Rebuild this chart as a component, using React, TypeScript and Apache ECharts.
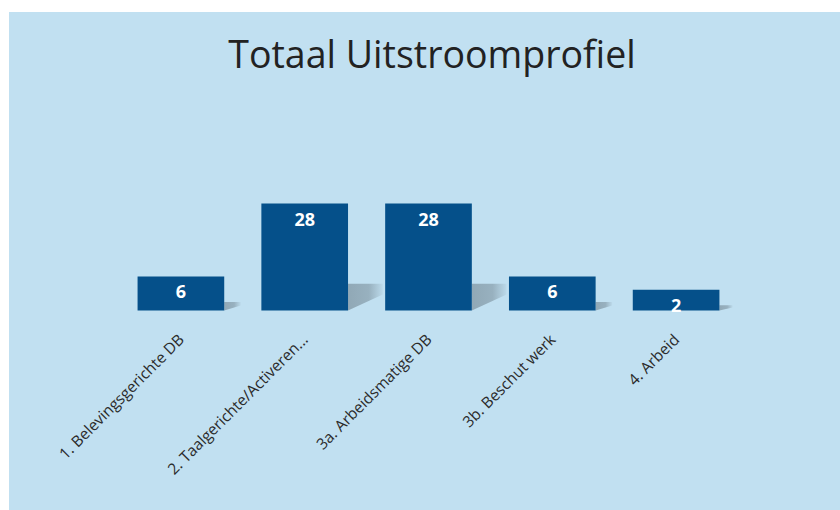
import React, { useEffect, useRef } from "react";
import * as echarts from "echarts";

const chartTitle = "Totaal Uitstroomprofiel";
const categories = [
  "1. Belevingsgerichte DB",
  "2. Taalgerichte/Activeren...",
  "3a. Arbeidsmatige DB",
  "3b. Beschut werk",
  "4. Arbeid",
];
const values = [6, 28, 28, 6, 2];

const Y_MIN = -4.25;
const Y_MAX = 40;
const BAR_COLOR = "#05508a";

export default function App() {
  const ref = useRef<HTMLDivElement>(null);

  useEffect(() => {
    if (!ref.current) return;
    const chart = echarts.init(ref.current, null, { renderer: "svg" });
    chart.setOption({
      animation: false,
      backgroundColor: "#c1e0f1",
      title: {
        text: chartTitle,
        left: 418,
        top: 17,
        textAlign: "center",
        textStyle: {
          fontFamily: "Open Sans",
          fontSize: 37.5,
          fontWeight: "normal",
          color: "#222222",
        },
      },
      grid: { left: 110, right: 102, top: 151.7, bottom: 199.5 },
      xAxis: {
        type: "category",
        data: categories,
        axisLine: { show: false, onZero: false },
        axisTick: { show: false },
        splitLine: { show: false },
        axisLabel: {
          interval: 0,
          rotate: 45,
          margin: 26,
          fontFamily: "Open Sans",
          fontSize: 15.5,
          color: "#2b2b2b",
        },
      },
      yAxis: { type: "value", min: Y_MIN, max: Y_MAX, show: false },
      series: [
        {
          type: "custom",
          data: values.map((v, i) => [i, v]),
          encode: { x: 0, y: 1 },
          renderItem: (params: any, api: any) => {
            const idx = api.value(0);
            const v = api.value(1);
            const top = api.coord([idx, v]);
            const base = api.coord([idx, Y_MIN]);
            const bw = api.size([1, 0])[0] * 0.7;
            const x0 = top[0] - bw / 2;
            const h = base[1] - top[1];
            const xr = x0 + bw;
            const ys = base[1] - 0.25 * h;
            const sw = 0.25 * h + 8;
            return {
              type: "group",
              children: [
                {
                  type: "polygon",
                  shape: {
                    points: [
                      [xr, ys],
                      [xr + sw, ys],
                      [xr + sw, ys + 0.4 * (base[1] - ys)],
                      [xr, base[1]],
                    ],
                  },
                  style: {
                    fill: new echarts.graphic.LinearGradient(0, 0, 1, 0, [
                      { offset: 0, color: "rgba(85,100,110,0.45)" },
                      { offset: 0.6, color: "rgba(85,100,110,0.38)" },
                      { offset: 1, color: "rgba(85,100,110,0.05)" },
                    ]),
                  },
                },
                {
                  type: "rect",
                  shape: { x: x0, y: top[1], width: bw, height: h },
                  style: { fill: BAR_COLOR },
                },
                {
                  type: "text",
                  x: top[0],
                  y: top[1] + 15,
                  style: {
                    text: String(v),
                    fill: "#ffffff",
                    fontFamily: "Open Sans",
                    fontSize: 18,
                    fontWeight: "bold",
                    align: "center",
                    verticalAlign: "middle",
                  },
                },
              ],
            };
          },
        },
      ],
    });
    return () => chart.dispose();
  }, []);

  return (
    <div
      ref={ref}
      style={{ position: "absolute", left: 9, top: 12, width: 831, height: 498 }}
    />
  );
}
